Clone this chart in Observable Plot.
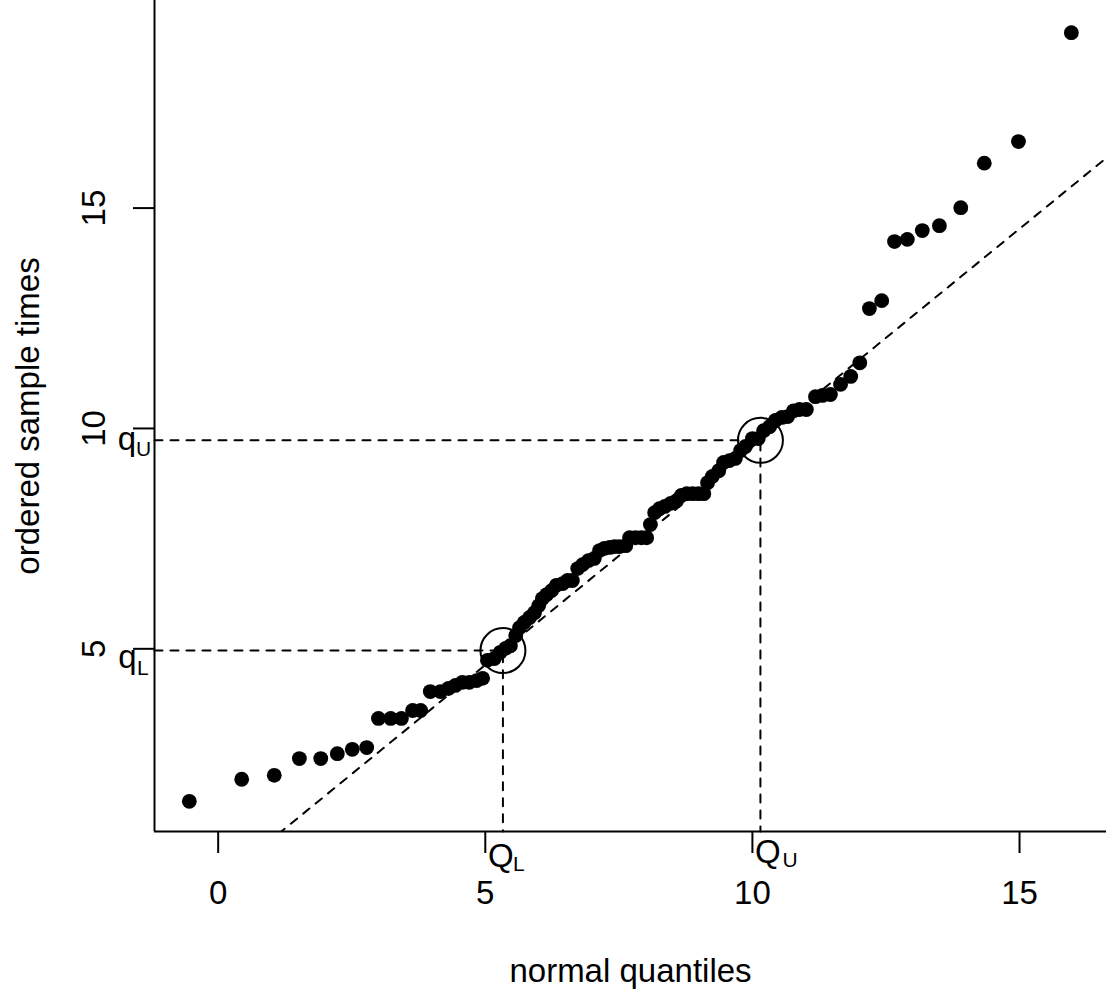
<!DOCTYPE html>
<html>
<head>
<meta charset="utf-8">
<script src="https://cdn.jsdelivr.net/npm/d3@7"></script>
<script src="https://cdn.jsdelivr.net/npm/@observablehq/plot@0.6"></script>
<style>
  html, body { margin: 0; padding: 0; background: #fff; }
  #chart { width: 1108px; height: 993px; }
</style>
</head>
<body>
<div id="chart"></div>
<script>
// normal quantiles (x) and ordered sample times (y)
const normalQuantiles = [
  -0.54, 0.44, 1.05, 1.52, 1.92, 2.23, 2.51, 2.78, 3.00, 3.23,
  3.43, 3.64, 3.79, 3.97, 4.16, 4.31, 4.44, 4.57, 4.70, 4.84,
  4.95, 5.04, 5.17, 5.28, 5.38, 5.47, 5.57, 5.64, 5.73, 5.83,
  5.92, 6.00, 6.07, 6.15, 6.24, 6.33, 6.45, 6.54, 6.63, 6.73,
  6.82, 6.93, 7.04, 7.14, 7.23, 7.33, 7.42, 7.51, 7.63, 7.70,
  7.81, 7.92, 8.02, 8.09, 8.17, 8.26, 8.36, 8.47, 8.58, 8.67,
  8.77, 8.88, 8.99, 9.09, 9.16, 9.25, 9.37, 9.46, 9.57, 9.68,
  9.78, 9.87, 10.00, 10.11, 10.21, 10.32, 10.43, 10.55, 10.66, 10.77,
  10.88, 11.01, 11.18, 11.31, 11.46, 11.65, 11.84, 12.01, 12.19, 12.42,
  12.66, 12.90, 13.18, 13.50, 13.90, 14.34, 14.98, 15.97
];
const sampleTimes = [
  1.54, 2.04, 2.13, 2.51, 2.51, 2.62, 2.72, 2.76, 3.42, 3.42,
  3.42, 3.60, 3.60, 4.03, 4.03, 4.10, 4.17, 4.24, 4.24, 4.28,
  4.33, 4.74, 4.78, 4.92, 5.01, 5.07, 5.30, 5.48, 5.60, 5.71,
  5.82, 5.98, 6.14, 6.23, 6.32, 6.44, 6.48, 6.55, 6.55, 6.82,
  6.91, 7.00, 7.05, 7.23, 7.28, 7.30, 7.32, 7.32, 7.34, 7.52,
  7.52, 7.52, 7.52, 7.82, 8.09, 8.18, 8.23, 8.30, 8.36, 8.48,
  8.52, 8.52, 8.52, 8.52, 8.77, 8.91, 9.04, 9.23, 9.27, 9.32,
  9.50, 9.59, 9.77, 9.77, 9.95, 10.04, 10.18, 10.25, 10.27, 10.40,
  10.43, 10.43, 10.72, 10.75, 10.77, 11.00, 11.18, 11.49, 12.72, 12.90,
  14.24, 14.29, 14.49, 14.60, 15.01, 16.02, 16.51, 18.98
];
const xTicks = [0, 5, 10, 15];
const yTicks = [5, 10, 15];
// lower / upper quartile markers
const QL = 5.33, qL = 4.96;
const QU = 10.15, qU = 9.73;

const points = normalQuantiles.map((x, i) => ({x, y: sampleTimes[i]}));

const xDomain = [-1.192, 16.628];
const yDomain = [0.855, 19.71];
const slope = (qU - qL) / (QU - QL);
const refLine = xDomain.map(x => ({x, y: qL + slope * (x - QL)}));
const quartiles = [{x: QL, y: qL}, {x: QU, y: qU}];

const FONT = "'Liberation Sans', Arial, Helvetica, sans-serif";

const chart = Plot.plot({
  width: 1108,
  height: 993,
  marginLeft: 154,
  marginRight: 2,
  marginTop: 0,
  marginBottom: 162,
  x: {domain: xDomain, axis: null},
  y: {domain: yDomain, axis: null},
  style: {fontFamily: FONT, background: "white", color: "black"},
  marks: [
    // axis lines (L-shaped box)
    Plot.ruleX([xDomain[0]], {y1: yDomain[0], y2: yDomain[1], stroke: "black", strokeWidth: 2}),
    Plot.ruleY([yDomain[0]], {x1: xDomain[0], x2: xDomain[1], stroke: "black", strokeWidth: 2}),
    // x axis ticks + labels
    Plot.axisX({ticks: xTicks, anchor: "bottom", label: null, tickSize: 22, tickPadding: 27, fontSize: 33, strokeWidth: 2, stroke: "black", fill: "black", tickFormat: d => String(d)}),
    // y axis ticks
    Plot.axisY({ticks: yTicks, anchor: "left", label: null, tickSize: 21, strokeWidth: 2, stroke: "black", tickFormat: () => ""}),
    Plot.text(yTicks, {y: d => d, text: d => String(d), frameAnchor: "left", dx: -60, rotate: -90, textAnchor: "middle", lineAnchor: "middle", fontSize: 33, fill: "black"}),
    // axis titles
    Plot.text(["normal quantiles"], {frameAnchor: "bottom", dy: 150, lineAnchor: "bottom", fontSize: 33, fill: "black"}),
    Plot.text(["ordered sample times"], {frameAnchor: "left", dx: -126, rotate: -90, textAnchor: "middle", lineAnchor: "middle", fontSize: 33, fill: "black"}),
    // reference line through quartiles
    Plot.line(refLine, {x: "x", y: "y", stroke: "black", strokeWidth: 2, strokeDasharray: "8,8", clip: true}),
    // quartile guide lines
    Plot.line([{x: xDomain[0], y: qL}, {x: QL, y: qL}, {x: QL, y: yDomain[0]}], {x: "x", y: "y", stroke: "black", strokeWidth: 2, strokeDasharray: "8,8"}),
    Plot.line([{x: xDomain[0], y: qU}, {x: QU, y: qU}, {x: QU, y: yDomain[0]}], {x: "x", y: "y", stroke: "black", strokeWidth: 2, strokeDasharray: "8,8"}),
    // data points
    Plot.dot(points, {x: "x", y: "y", r: 7.4, fill: "black", stroke: "none"}),
    // circles around quartile points
    Plot.dot(quartiles, {x: "x", y: "y", r: 22.5, fill: "none", stroke: "black", strokeWidth: 2}),
    // q_L, q_U labels on y axis
    Plot.text([qU], {y: d => d, text: () => "q", frameAnchor: "left", dx: -18.5, dy: 9.5, textAnchor: "end", lineAnchor: "bottom", fontSize: 33, fill: "black"}),
    Plot.text([qU], {y: d => d, text: () => "U", frameAnchor: "left", dx: -18.5, dy: 16, textAnchor: "start", lineAnchor: "bottom", fontSize: 21, fill: "black"}),
    Plot.text([qL], {y: d => d, text: () => "q", frameAnchor: "left", dx: -18, dy: 17, textAnchor: "end", lineAnchor: "bottom", fontSize: 33, fill: "black"}),
    Plot.text([qL], {y: d => d, text: () => "L", frameAnchor: "left", dx: -17.5, dy: 24, textAnchor: "start", lineAnchor: "bottom", fontSize: 21, fill: "black"}),
    // Q_L, Q_U labels on x axis
    Plot.text([QL], {x: d => d, text: () => "Q", frameAnchor: "bottom", dx: -15, dy: 35, textAnchor: "start", lineAnchor: "bottom", fontSize: 33, fill: "black"}),
    Plot.text([QL], {x: d => d, text: () => "L", frameAnchor: "bottom", dx: 10, dy: 39, textAnchor: "start", lineAnchor: "bottom", fontSize: 21, fill: "black"}),
    Plot.text([QU], {x: d => d, text: () => "Q", frameAnchor: "bottom", dx: -5.5, dy: 31, textAnchor: "start", lineAnchor: "bottom", fontSize: 33, fill: "black"}),
    Plot.text([QU], {x: d => d, text: () => "U", frameAnchor: "bottom", dx: 22, dy: 35, textAnchor: "start", lineAnchor: "bottom", fontSize: 21, fill: "black"})
  ]
});
document.getElementById("chart").appendChild(chart);
</script>
</body>
</html>
